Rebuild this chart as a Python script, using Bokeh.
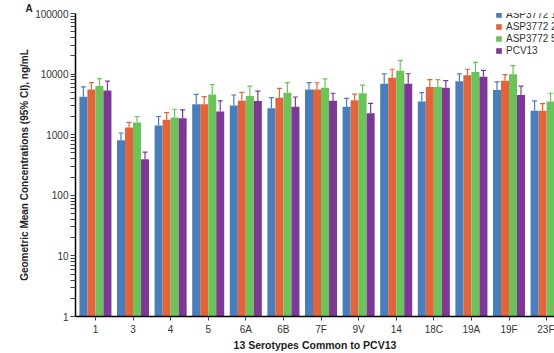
from bokeh.plotting import figure
from bokeh.models import (Range1d, FixedTicker, ColumnDataSource, Whisker, TeeHead,
                          Legend, LegendItem, Title, BasicTickFormatter)
from bokeh.embed import file_html
from bokeh.resources import INLINE

# Serotypes on the x axis
serotypes = ["1", "3", "4", "5", "6A", "6B", "7F", "9V", "14", "18C", "19A", "19F", "23F"]

# Geometric mean concentrations (ng/mL) and upper 95% CI per group
gmc_1ug = [4240, 810, 1425, 3175, 3020, 2735, 5580, 2880, 6920, 3520, 7650, 5460, 2475]
ci_1ug = [6170, 1067, 1995, 4625, 4520, 4080, 7260, 3980, 10070, 4930, 10070, 7460, 3607]
gmc_2ug = [5580, 1320, 1763, 3175, 3650, 4080, 5580, 3690, 8670, 6110, 9590, 7740, 2475]
ci_2ug = [7260, 1595, 2322, 4240, 5000, 5800, 7200, 4680, 12030, 8130, 12030, 9810, 3260]
gmc_5ug = [6340, 1595, 1925, 4625, 4350, 4930, 5960, 4830, 11400, 6110, 10860, 9960, 3520]
ci_5ug = [8450, 1995, 2630, 6740, 6340, 7260, 8330, 6580, 16870, 8130, 15630, 13770, 4830]
gmc_pcv13 = [5370, 392, 1875, 2410, 3607, 2880, 3650, 2265, 6920, 5960, 9000, 4520, 2600]
ci_pcv13 = [7650, 516, 2570, 3607, 5250, 4190, 4830, 3300, 10140, 7830, 11560, 6340, 3700]

series_names = ["ASP3772 1 µg", "ASP3772 2 µg", "ASP3772 5 µg", "PCV13"]
series_gmc = [gmc_1ug, gmc_2ug, gmc_5ug, gmc_pcv13]
series_ci = [ci_1ug, ci_2ug, ci_5ug, ci_pcv13]
colors = ["#4A7EBB", "#E2643A", "#6CC35A", "#7D3895"]

y_major = [1, 10, 100, 1000, 10000, 100000]
y_minor = [m * d for d in [1, 10, 100, 1000, 10000] for m in range(2, 10)]

FONT = "Liberation Sans"
BAR_W = 0.213

p = figure(width=554, height=353, y_axis_type="log",
           x_range=Range1d(-0.53, 12.21), y_range=Range1d(1, 100000),
           output_backend="svg", toolbar_location=None,
           min_border_left=75, min_border_right=0, min_border_top=10, min_border_bottom=36)
p.outline_line_color = None
p.xgrid.visible = False
p.ygrid.visible = False
p.background_fill_color = "white"

items = []
for k, (name, gmc, ci, col) in enumerate(zip(series_names, series_gmc, series_ci, colors)):
    xs = [i + (k - 1.5) * BAR_W for i in range(len(serotypes))]
    src = ColumnDataSource(dict(x=xs, gmc=gmc, ci=ci, base=[1] * len(xs)))
    r = p.vbar(x="x", top="gmc", bottom="base", width=BAR_W, source=src,
               fill_color=col, line_color=None)
    w = Whisker(source=src, base="x", upper="ci", lower="gmc", dimension="height",
                line_color=col, line_width=1.2,
                upper_head=TeeHead(size=5, line_color=col, line_width=1.2),
                lower_head=None)
    p.add_layout(w)
    items.append(LegendItem(label=name, renderers=[r]))

legend = Legend(items=items, location=(420, 260), padding=0, margin=0, spacing=0,
                label_height=12, glyph_height=7, glyph_width=7, label_standoff=4,
                label_text_font_size="10px", label_text_font=FONT, label_text_color="#333333",
                border_line_alpha=0, background_fill_alpha=0)
p.add_layout(legend)

# y axis
ya = p.yaxis[0]
ya.ticker = FixedTicker(ticks=y_major, minor_ticks=y_minor)
ya.formatter = BasicTickFormatter(use_scientific=False)
ya.major_label_overrides = {v: str(v) for v in y_major}
ya.axis_line_color = "black"
ya.axis_line_width = 1.5
ya.major_tick_in = 0
ya.major_tick_out = 5
ya.minor_tick_in = 0
ya.minor_tick_out = 5
ya.major_tick_line_color = "#444444"
ya.minor_tick_line_color = "#444444"
ya.major_label_standoff = 2
ya.major_label_text_font = FONT
ya.major_label_text_font_size = "10px"
ya.major_label_text_color = "#333333"
ya.axis_label = "Geometric Mean Concentrations (95% CI), ng/mL"
ya.axis_label_text_font = FONT
ya.axis_label_text_font_style = "bold"
ya.axis_label_text_font_size = "10px"
ya.axis_label_text_color = "#222222"
ya.axis_label_standoff = 2

# x axis
xa = p.xaxis[0]
xa.ticker = FixedTicker(ticks=list(range(len(serotypes))), minor_ticks=[])
xa.major_label_overrides = {i: s for i, s in enumerate(serotypes)}
xa.axis_line_color = "black"
xa.axis_line_width = 1.5
xa.major_tick_in = 0
xa.major_tick_out = 4
xa.major_tick_line_color = "#444444"
xa.minor_tick_line_color = None
xa.major_label_standoff = 3
xa.major_label_text_font = FONT
xa.major_label_text_font_size = "10px"
xa.major_label_text_color = "#333333"
xa.axis_label = "13 Serotypes Common to PCV13"
xa.axis_label_text_font = FONT
xa.axis_label_text_font_style = "bold"
xa.axis_label_text_font_size = "10.5px"
xa.axis_label_text_color = "#222222"
xa.axis_label_standoff = 1

# Panel letter in the top-left corner
panel_tag = Title(text="A", align="left", offset=-50, standoff=0,
                  text_font=FONT, text_font_style="bold", text_font_size="10px",
                  text_color="#222222")
p.add_layout(panel_tag, "above")

open("out.html", "w").write(file_html(p, INLINE))
